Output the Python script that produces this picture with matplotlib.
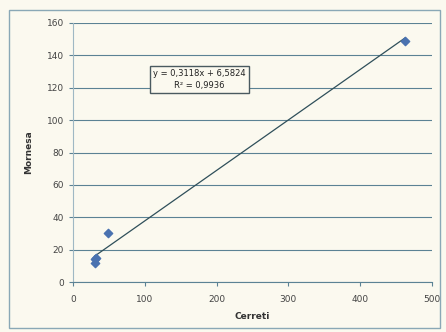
import matplotlib.pyplot as plt
import numpy as np

cerreti = [30, 31, 32, 49, 462]
mornesa = [12, 14, 15, 30, 149]
slope = 0.3118
intercept = 6.5824
eq_label = "y = 0,3118x + 6,5824\nR² = 0,9936"

xticks = [0, 100, 200, 300, 400, 500]
yticks = [0, 20, 40, 60, 80, 100, 120, 140, 160]

bg = '#fbf9ef'
grid_c = '#5b8294'

fig = plt.figure(figsize=(4.46, 3.32), dpi=100, facecolor=bg)
ax = fig.add_axes([73 / 446, 1 - 282 / 332, (432 - 73) / 446, (282 - 23) / 332])
ax.set_facecolor(bg)

# outer chart border
fig.patches.append(plt.Rectangle((9 / 446, 4 / 332), 431 / 446, 318 / 332,
                                 transform=fig.transFigure, fill=False,
                                 edgecolor='#8aa8b6', lw=1))

ax.set_xlim(0, 500)
ax.set_ylim(0, 160)
ax.set_xticks(xticks)
ax.set_yticks(yticks)
ax.tick_params(labelsize=6.5, length=3, color=grid_c)
ax.tick_params(axis='x', pad=6)
for t in ax.get_xticklabels() + ax.get_yticklabels():
    t.set_color('#444444')
ax.yaxis.grid(True, color=grid_c, lw=0.8)
ax.set_axisbelow(True)
for s in ['top', 'right']:
    ax.spines[s].set_visible(False)
ax.spines['left'].set_color('#9fb8c4')
ax.spines['bottom'].set_color(grid_c)

xs = np.array([min(cerreti), max(cerreti)])
ax.plot(xs, slope * xs + intercept, color='#2f4f5a', lw=0.9)
ax.scatter(cerreti, mornesa, marker='D', s=18, color='#4a72b0', zorder=3)

ax.text(176, 125, eq_label, fontsize=6, ha='center', va='center',
        color='#222222', linespacing=1.4,
        bbox=dict(boxstyle='square,pad=0.4', fc=bg, ec='#4a5a60', lw=1))

ax.set_xlabel('Cerreti', fontsize=6.5, fontweight='bold', color='#333333', labelpad=6)
ax.set_ylabel('Mornesa', fontsize=6.5, fontweight='bold', color='#333333', labelpad=10)

fig.savefig('out.png', dpi=100, facecolor=bg)
